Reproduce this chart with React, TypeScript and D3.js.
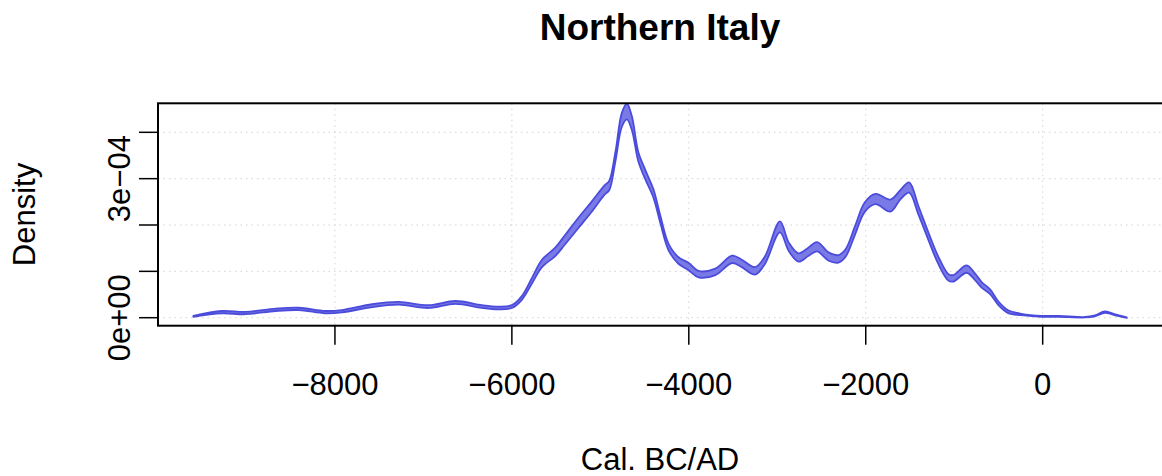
import React from "react";
import * as d3 from "d3";

// Calendar years (BC negative) and density band (units of 1e-4)
const years = [
  -9600, -9280, -9010, -8670, -8410, -8110, -7920, -7580, -7280, -6940, -6640, -6340,
  -6150, -6000, -5890, -5770, -5660, -5510, -5400, -5250, -5100, -4950, -4900, -4830,
  -4757, -4700, -4644, -4570, -4490, -4400, -4320, -4230, -4120, -4000, -3890, -3700,
  -3510, -3400, -3250, -3140, -2970, -2870, -2760, -2650, -2550, -2420, -2310, -2230,
  -2120, -2010, -1890, -1720, -1610, -1510, -1405, -1290, -1180, -1066, -1010, -860,
  -764, -690, -594, -500, -390, -240, -10, 180, 480, 590, 705, 820, 950,
];
const densityMid = [
  0.03, 0.12, 0.1, 0.17, 0.19, 0.12, 0.14, 0.26, 0.31, 0.24, 0.33, 0.24,
  0.21, 0.24, 0.42, 0.81, 1.17, 1.42, 1.68, 2.04, 2.39, 2.76, 2.85, 3.47,
  4.27, 4.45, 4.2, 3.47, 3.08, 2.68, 2.11, 1.53, 1.24, 1.1, 0.94, 0.99,
  1.26, 1.17, 1.01, 1.24, 1.96, 1.53, 1.3, 1.42, 1.53, 1.32, 1.27, 1.39,
  1.89, 2.39, 2.56, 2.42, 2.65, 2.81, 2.32, 1.75, 1.24, 0.87, 0.85, 1.05,
  0.88, 0.71, 0.56, 0.31, 0.13, 0.07, 0.03, 0.03, 0.01, 0.04, 0.12, 0.06, 0.0,
];
const densitySpread = [
  0.01, 0.025, 0.025, 0.025, 0.025, 0.025, 0.025, 0.03, 0.03, 0.03, 0.03, 0.03,
  0.03, 0.03, 0.04, 0.06, 0.08, 0.09, 0.1, 0.11, 0.11, 0.1, 0.1, 0.1,
  0.15, 0.17, 0.15, 0.1, 0.1, 0.09, 0.08, 0.07, 0.07, 0.08, 0.07, 0.07,
  0.08, 0.08, 0.08, 0.08, 0.12, 0.09, 0.09, 0.09, 0.1, 0.09, 0.08, 0.08,
  0.09, 0.1, 0.11, 0.13, 0.1, 0.11, 0.09, 0.08, 0.08, 0.07, 0.07, 0.08,
  0.07, 0.06, 0.05, 0.04, 0.03, 0.015, 0.01, 0.01, 0.005, 0.01, 0.015, 0.01, 0.005,
];

const xTicks = [-8000, -6000, -4000, -2000, 0];
const xTickLabels = ["\u22128000", "\u22126000", "\u22124000", "\u22122000", "0"];
const yTicks = [0, 1, 2, 3, 4]; // x 1e-4
const yTickLabels = ["0e+00", "", "", "3e\u221204", ""];

const title = "Northern Italy";
const xLabel = "Cal. BC/AD";
const yLabel = "Density";

const W = 1162;
const H = 476;
const plot = { left: 158, right: 1163, top: 103.3, bottom: 325.7 };
const FONT = "'Liberation Sans', Arial, Helvetica, sans-serif";

export default function App() {
  const x = d3.scaleLinear().domain([-10000, 1360]).range([plot.left, plot.right]);
  const y = d3.scaleLinear().domain([-0.1726, 4.626]).range([plot.bottom, plot.top]);

  const data = years.map((yr, i) => ({
    yr,
    lo: densityMid[i] - densitySpread[i],
    hi: densityMid[i] + densitySpread[i],
  }));

  const area = d3
    .area<{ yr: number; lo: number; hi: number }>()
    .x((d) => x(d.yr))
    .y0((d) => y(d.lo))
    .y1((d) => y(d.hi))
    .curve(d3.curveCatmullRom.alpha(0.5));

  const gridColor = "#d3d3d3";

  return (
    <div style={{ position: "absolute", left: 0, top: 0 }}>
      <svg width={W} height={H} style={{ display: "block", background: "#fff" }}>
        <rect x={0} y={0} width={W} height={H} fill="#fff" />
        {/* grid */}
        {xTicks.map((t) => (
          <line
            key={"gx" + t}
            x1={x(t)}
            x2={x(t)}
            y1={plot.top}
            y2={plot.bottom}
            stroke={gridColor}
            strokeWidth={1}
            strokeDasharray="1.5,4"
          />
        ))}
        {yTicks.map((t) => (
          <line
            key={"gy" + t}
            x1={plot.left}
            x2={plot.right}
            y1={y(t)}
            y2={y(t)}
            stroke={gridColor}
            strokeWidth={1}
            strokeDasharray="1.5,4"
          />
        ))}
        {/* density band */}
        <path
          d={area(data) || ""}
          fill="#7a7ae6"
          stroke="#4c4cdc"
          strokeWidth={1.8}
          strokeLinejoin="round"
        />
        {/* box */}
        <rect
          x={plot.left}
          y={plot.top}
          width={plot.right - plot.left}
          height={plot.bottom - plot.top}
          fill="none"
          stroke="#000"
          strokeWidth={2}
        />
        {/* x axis */}
        {xTicks.map((t, i) => (
          <g key={"xt" + t}>
            <line x1={x(t)} x2={x(t)} y1={plot.bottom} y2={plot.bottom + 19} stroke="#000" strokeWidth={1.5} />
            <text
              x={x(t)}
              y={395}
              textAnchor="middle"
              fontFamily={FONT}
              fontSize={31}
              fill="#000"
            >
              {xTickLabels[i]}
            </text>
          </g>
        ))}
        {/* y axis */}
        {yTicks.map((t, i) => (
          <g key={"yt" + t}>
            <line x1={plot.left - 19} x2={plot.left} y1={y(t)} y2={y(t)} stroke="#000" strokeWidth={1.5} />
            {yTickLabels[i] && (
              <text
                transform={`translate(130, ${y(t)}) rotate(-90)`}
                textAnchor="middle"
                fontFamily={FONT}
                fontSize={31}
                fill="#000"
              >
                {yTickLabels[i]}
              </text>
            )}
          </g>
        ))}
        {/* labels */}
        <text x={660} y={470} textAnchor="middle" fontFamily={FONT} fontSize={31} fill="#000">
          {xLabel}
        </text>
        <text
          transform={`translate(35, ${(plot.top + plot.bottom) / 2}) rotate(-90)`}
          textAnchor="middle"
          fontFamily={FONT}
          fontSize={31}
          fill="#000"
        >
          {yLabel}
        </text>
        <text
          x={660}
          y={40}
          textAnchor="middle"
          fontFamily={FONT}
          fontSize={37}
          fontWeight="bold"
          fill="#000"
        >
          {title}
        </text>
      </svg>
    </div>
  );
}
